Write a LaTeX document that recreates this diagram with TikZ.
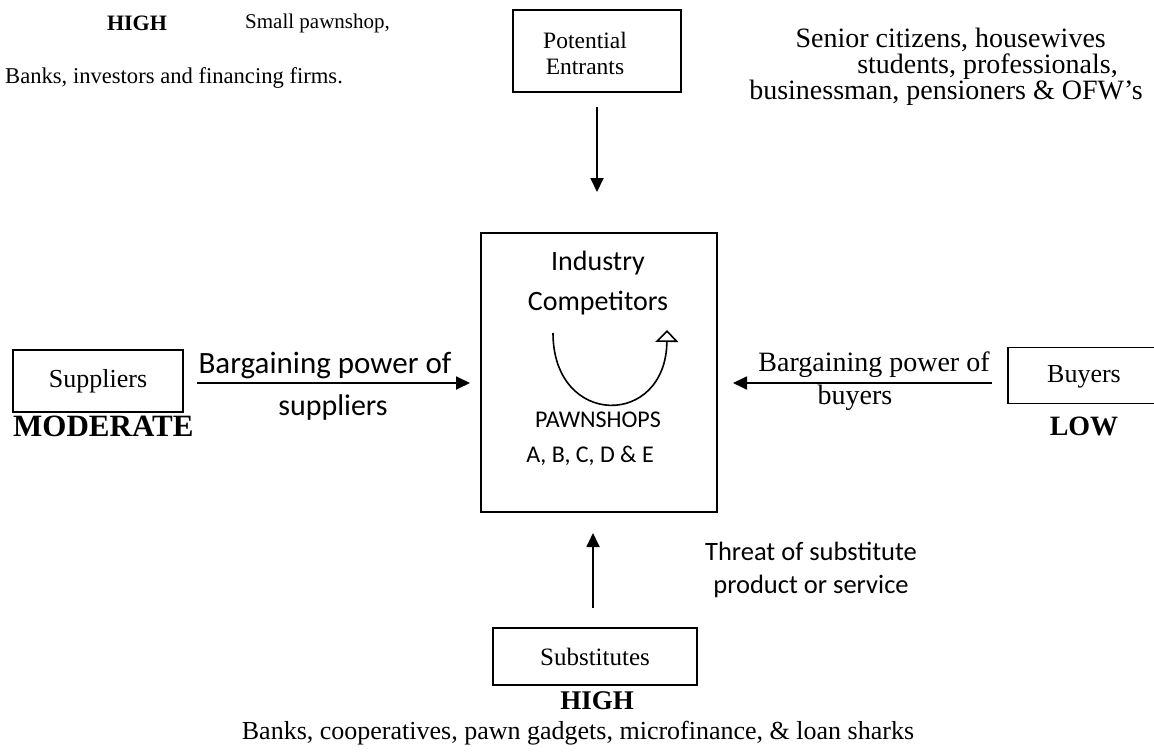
\documentclass[tikz,border=0pt]{standalone}
\usepackage{fontspec}
\setmainfont{Liberation Serif}
\newfontfamily\sansf{Carlito}
\usetikzlibrary{arrows.meta}
\begin{document}
\begin{tikzpicture}[x=1pt,y=-1pt,
  box/.style={draw,line width=1.3pt,inner sep=0pt},
  fwd/.style={line width=1.8pt,-{Triangle[width=13pt,length=14pt]}},
  lbl/.style={inner sep=0pt,align=center},
]
\fill[white] (0,0) rectangle (1154,752);
\useasboundingbox (0,0) rectangle (1154,752);

% --- top: potential entrants ---
\node[lbl,font=\bfseries\fontsize{22}{26}\selectfont] (hiT) at (137,23) {HIGH};
\node[lbl,anchor=west,font=\fontsize{21}{25}\selectfont] (smp) at (245,23) {Small pawnshop,};
\node[lbl,anchor=west,font=\fontsize{22.6}{26}\selectfont] (bnk) at (5,78) {Banks, investors and financing firms.};
\node[box,minimum width=168pt,minimum height=82pt] (pe) at (597,51) {};
\node[lbl,font=\fontsize{23.5}{26}\selectfont] (pet) at (585,53) {Potential\\Entrants};

% buyers' profile
\node[lbl,anchor=east,font=\fontsize{28}{30}\selectfont] (sc1) at (1106,40) {Senior citizens, housewives};
\node[lbl,anchor=east,font=\fontsize{28}{30}\selectfont] (sc2) at (1118,67) {students, professionals,};
\node[lbl,anchor=east,font=\fontsize{28}{30}\selectfont] (sc3) at (1143,93) {businessman, pensioners \& OFW’s};

% --- centre: industry competitors ---
\node[box,minimum width=236pt,minimum height=279pt] (ind) at (599,372.5) {};
\node[lbl,font=\sansf\fontsize{28}{40}\selectfont] (indt) at (598,283) {Industry\\Competitors};
\coordinate (rivA) at (553,333);
\coordinate (rivB) at (667,330);
\draw[line width=1.6pt,-{Triangle[open,width=23pt,length=12pt,fill=white]}]
  (rivA) .. controls (553,428) and (666,428) .. (rivB);
\node[lbl,font=\sansf\fontsize{24}{30}\selectfont] (pwn) at (598,420) {PAWNSHOPS};
\node[lbl,font=\sansf\fontsize{24}{30}\selectfont] (abc) at (590,456) {A, B, C, D \& E};

\draw[fwd] ([yshift=-14pt]pe.south) -- (597,192) coordinate (peTip);

% --- left: suppliers ---
\node[box,minimum width=170pt,minimum height=62pt,font=\fontsize{26}{30}\selectfont] (sup) at (98,381) {Suppliers};
\coordinate (supFrom) at (197,383);
\coordinate (supTip) at (470,383);
\draw[fwd] (supFrom) -- (supTip);
\node[lbl,font=\sansf\fontsize{31}{34}\selectfont] (bps1) at (325,365) {Bargaining power of};
\node[lbl,font=\sansf\fontsize{30}{34}\selectfont] (bps2) at (333,407) {suppliers};
\node[lbl,anchor=west,font=\bfseries\fontsize{31}{34}\selectfont] (mod) at (13,426) {MODERATE};

% --- right: buyers ---
\node[box,minimum width=152pt,minimum height=56pt] (buy) at (1084,375.5) {};
\node[lbl,font=\fontsize{26}{30}\selectfont] (buyt) at (1084,377) {Buyers};
\coordinate (buyFrom) at (992,383);
\coordinate (buyTip) at (733,383);
\draw[fwd] (buyFrom) -- (buyTip);
\node[lbl,font=\fontsize{28}{30}\selectfont] (bpb1) at (874,365) {Bargaining power of};
\node[lbl,font=\fontsize{28}{30}\selectfont] (bpb2) at (855,398) {buyers};
\node[lbl,font=\bfseries\fontsize{28}{32}\selectfont] (low) at (1084,426) {LOW};

% --- bottom: substitutes ---
\node[box,minimum width=204pt,minimum height=57pt,font=\fontsize{25}{29}\selectfont] (sub) at (595,656.5) {Substitutes};
\coordinate (subFrom) at (593,608);
\coordinate (subTip) at (593,533);
\draw[fwd] (subFrom) -- (subTip);
\node[lbl,font=\sansf\fontsize{26.5}{33}\selectfont] (thr) at (811,570) {Threat of substitute\\product or service};
\node[lbl,font=\bfseries\fontsize{27}{30}\selectfont] (hiB) at (597,701) {HIGH};
\node[lbl,font=\fontsize{26}{30}\selectfont] (sbl) at (578,733) {Banks, cooperatives, pawn gadgets, microfinance, \& loan sharks};
\end{tikzpicture}
\end{document}
